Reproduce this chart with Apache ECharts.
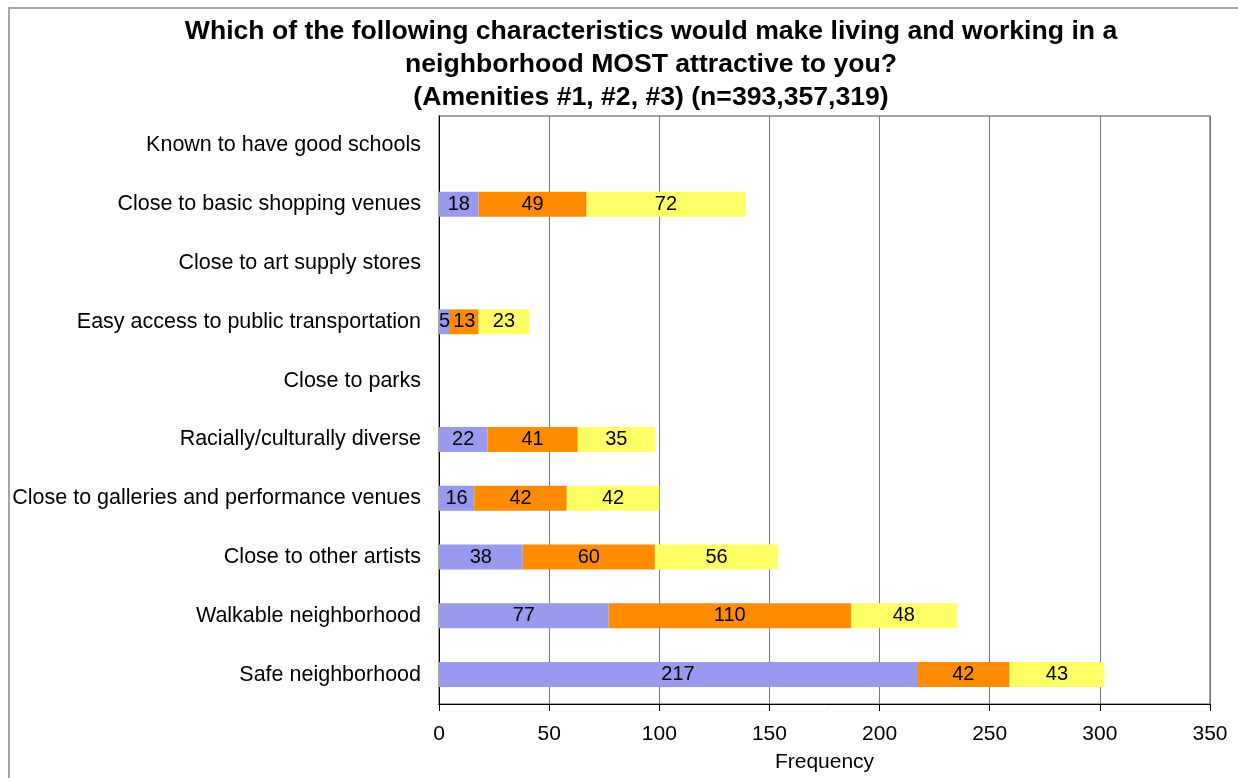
<!DOCTYPE html>
<html>
<head>
<meta charset="utf-8">
<script src="https://cdn.jsdelivr.net/npm/echarts@6/dist/echarts.min.js"></script>
<style>html,body{margin:0;padding:0;background:#fff}#c{width:1238px;height:778px}</style>
</head>
<body>
<div id="c"></div>
<script>
const categories = [
  "Safe neighborhood",
  "Walkable neighborhood",
  "Close to other artists",
  "Close to galleries and performance venues",
  "Racially/culturally diverse",
  "Close to parks",
  "Easy access to public transportation",
  "Close to art supply stores",
  "Close to basic shopping venues",
  "Known to have good schools"
];
const amenity1 = [217, 77, 38, 16, 22, null, 5, null, 18, null];
const amenity2 = [42, 110, 60, 42, 41, null, 13, null, 49, null];
const amenity3 = [43, 48, 56, 42, 35, null, 23, null, 72, null];
const xTicks = [0, 350, 50];

const chart = echarts.init(document.getElementById('c'));
const labelStyle = {show: true, position: 'inside', color: '#000', fontFamily: 'Liberation Sans, Arial', fontSize: 20};
function s(name, data, color) {
  return {
    name, type: 'bar', stack: 'all', data, barWidth: 25,
    itemStyle: {color},
    label: labelStyle,
    emphasis: {disabled: true}
  };
}
chart.setOption({
  animation: false,
  title: {
    text: "Which of the following characteristics would make living and working in a\nneighborhood MOST attractive to you?\n(Amenities #1, #2, #3) (n=393,357,319)",
    left: 651, top: 15, textAlign: 'center', padding: 0,
    textStyle: {fontFamily: 'Liberation Sans, Arial', fontWeight: 'bold', fontSize: 26.6, lineHeight: 33, color: '#000'}
  },
  graphic: [{type: 'rect', shape: {x: 9, y: 8, width: 1240, height: 780}, style: {fill: 'none', stroke: '#888', lineWidth: 1.5}, silent: true}],
  grid: {left: 439, right: 28, top: 116, bottom: 73, show: true, borderColor: '#888', borderWidth: 1.5, containLabel: false},
  xAxis: {
    type: 'value', min: xTicks[0], max: xTicks[1], interval: xTicks[2],
    name: 'Frequency', nameLocation: 'middle', nameGap: 48,
    nameTextStyle: {fontFamily: 'Liberation Sans, Arial', fontSize: 21, color: '#000'},
    axisLine: {show: true, lineStyle: {color: '#000', width: 1}},
    axisTick: {show: true, length: 7, lineStyle: {color: '#000'}},
    axisLabel: {fontFamily: 'Liberation Sans, Arial', fontSize: 21, color: '#000', margin: 20},
    splitLine: {show: true, lineStyle: {color: '#777', width: 1}}
  },
  yAxis: {
    type: 'category', data: categories,
    axisLine: {show: true, lineStyle: {color: '#000'}},
    axisTick: {show: false},
    axisLabel: {fontFamily: 'Liberation Sans, Arial', fontSize: 21.5, color: '#000', margin: 18}
  },
  series: [
    s('Amenity #1', amenity1, '#9999EE'),
    s('Amenity #2', amenity2, '#FF8C00'),
    s('Amenity #3', amenity3, '#FFFF66')
  ]
});
</script>
</body>
</html>
